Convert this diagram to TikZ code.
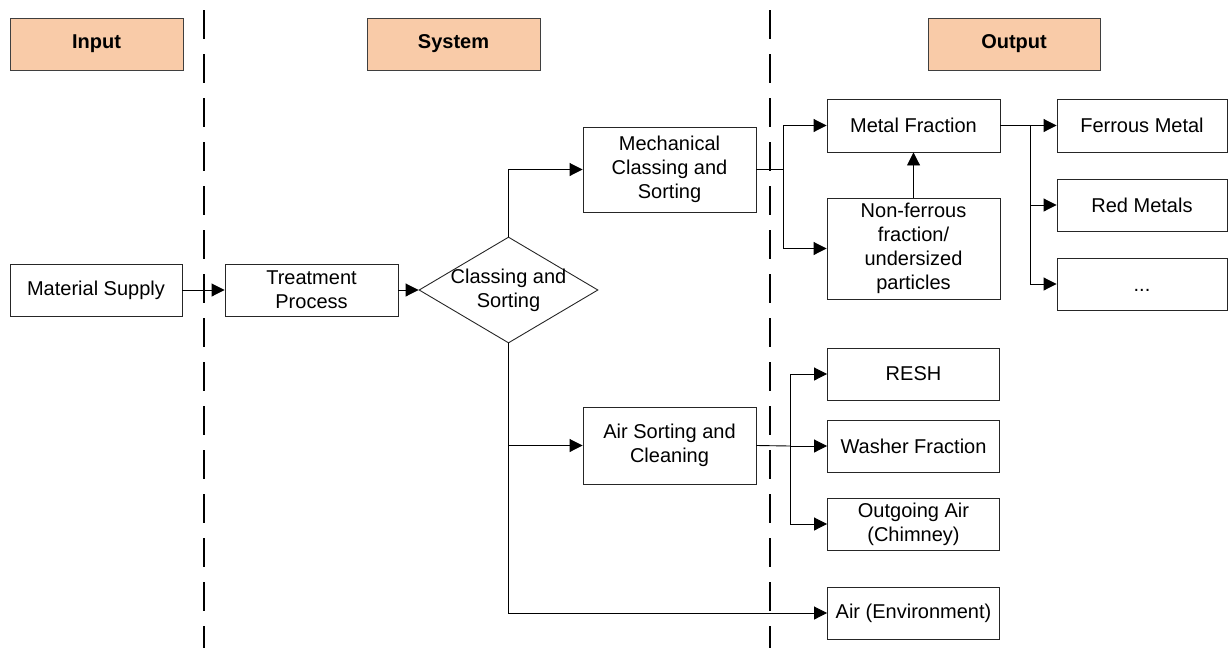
\documentclass[tikz,border=0pt]{standalone}
\usepackage{fontspec}
\setmainfont{Liberation Sans}
\usetikzlibrary{arrows.meta,shapes.geometric}
\definecolor{peach}{HTML}{F9CBA8}
\definecolor{hdrline}{HTML}{3F3F3F}
\tikzset{
  box/.style={draw=black!85, line width=0.9pt, rectangle, inner sep=0pt, align=center,
    font=\fontsize{20}{24}\selectfont},
  hdr/.style={box, fill=peach, draw=hdrline, font=\fontsize{20}{24}\selectfont\bfseries,
    minimum width=173pt, minimum height=52pt},
  arr/.style={line width=0.9pt, -{Triangle[length=13pt,width=13pt]}},
  conn/.style={line width=0.9pt},
  sep/.style={line width=2.8pt, dash pattern=on 29pt off 15pt}
}
\begin{document}
\begin{tikzpicture}[x=1pt,y=-1pt]
\useasboundingbox (0,0) rectangle (1228,648);
% separators
\coordinate (d1t) at (204,10); \coordinate (d1b) at (204,648);
\coordinate (d2t) at (770,10); \coordinate (d2b) at (770,648);
\draw[sep] (d1t) -- (d1b);
\draw[sep] (d2t) -- (d2b);
% headers
\node[hdr] (hin) at (96.5,44) {Input};
\node[hdr] (hsys) at (453.5,44) {System};
\node[hdr, minimum width=172pt] (hout) at (1014,44) {Output};
% main nodes
\node[box, minimum width=172pt, minimum height=52pt] (ms) at (96,290) {Material Supply};
\node[box, minimum width=173pt, minimum height=52pt] (tp) at (311.5,290) {Treatment\\Process};
\node[diamond, draw=black!85, line width=0.9pt, inner sep=0pt, minimum width=179pt, minimum height=106pt,
  label={[align=center, font=\fontsize{20}{24}\selectfont]center:Classing and\\Sorting}] (cs) at (508.5,290) {};
\node[box, minimum width=173pt, minimum height=85pt] (mech) at (669.5,169.5) {Mechanical\\Classing and\\Sorting};
\node[box, minimum width=173pt, minimum height=77pt] (air) at (669.5,445.5) {Air Sorting and\\Cleaning};
\node[box, minimum width=173pt, minimum height=53pt] (metal) at (913.5,125.5) {Metal Fraction};
\node[box, minimum width=173pt, minimum height=101pt] (nf) at (913.5,248.5) {Non-ferrous\\fraction/\\undersized\\particles};
\node[box, minimum width=170pt, minimum height=53pt] (fe) at (1142,125.5) {Ferrous Metal};
\node[box, minimum width=170pt, minimum height=52pt] (red) at (1142,205) {Red Metals};
\node[box, minimum width=170pt, minimum height=52pt] (dots) at (1142,284) {\vphantom{Red Metals}...};
\node[box, minimum width=172pt, minimum height=52pt] (resh) at (913.5,374) {RESH};
\node[box, minimum width=172pt, minimum height=52pt] (wash) at (913.5,446) {Washer Fraction};
\node[box, minimum width=172pt, minimum height=52pt] (out) at (913.5,524) {Outgoing Air\\(Chimney)};
\node[box, minimum width=172pt, minimum height=52pt] (env) at (913.5,613) {Air (Environment)};
% connectors
\draw[arr] (ms.east) -- (tp.west);
\draw[arr] (tp.east) -- (cs.west);
\draw[arr] (cs.north) |- (mech.west);
\draw[arr] (cs.south) |- (air.west);
\draw[arr] (cs.south) |- (env.west);
\coordinate (m1) at (783,169.5);
\draw[conn] (mech.east) -- (m1);
\draw[arr] (m1) |- (metal.west);
\draw[arr] (m1) |- (nf.west);
\draw[arr] (nf.north) -- (metal.south);
\coordinate (m2) at (1030,125.5);
\draw[conn] (metal.east) -- (m2);
\draw[arr] (m2) -- (fe.west);
\draw[arr] (m2) |- (red.west);
\draw[arr] (m2) |- (dots.west);
\coordinate (a1) at (790,446);
\draw[conn] (air.east) -- (a1);
\draw[arr] (a1) |- (resh.west);
\draw[arr] (a1) -- (wash.west);
\draw[arr] (a1) |- (out.west);
\end{tikzpicture}
\end{document}
